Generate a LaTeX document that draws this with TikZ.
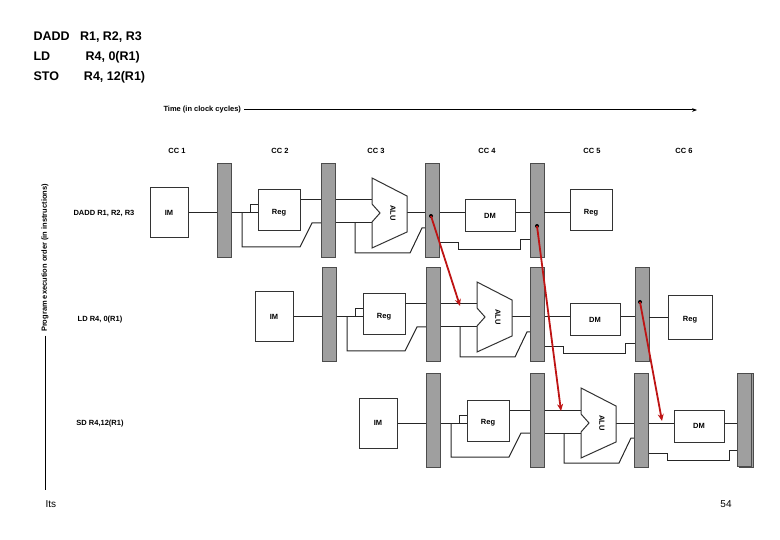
\documentclass[tikz,border=0pt]{standalone}
\usepackage{fontspec}
\setmainfont{Liberation Sans}
\usetikzlibrary{arrows.meta}
\begin{document}
\begin{tikzpicture}[x=1pt,y=-1pt,
  bar/.style={fill=gray!75,draw=black!70,line width=0.7pt},
  box/.style={draw=black!80,line width=1pt,fill=white},
  w/.style={draw=black!85,line width=1pt},
  lbl/.style={font=\fontsize{7.5}{9}\selectfont\bfseries},
  big/.style={font=\fontsize{12.5}{15}\selectfont\bfseries,anchor=west},
  red/.style={draw={rgb,255:red,190;green,20;blue,20},line width=1.8pt,-{Stealth[length=7pt,width=6pt]}},
  pics/stage/.style={code={
    \draw[w] (188,213)--(217,213);
    \draw[w] (231,213)--(250,213)--(250,205)--(258,205) (250,213)--(258,213);
    \draw[w] (242,213)--(242,247)--(300,247)--(312,223)--(321,223);
    \draw[w] (300,200)--(321,200);
    \draw[w] (335,200)--(372,200) (335,223)--(372,223);
    \draw[w] (355,223)--(355,253)--(410,253)--(422,228)--(425,228);
    \draw[w] (407,213)--(425,213);
    \draw[w] (440,213)--(465,213) (440,243)--(458,243)--(458,250)--(520,250)--(520,240)--(530,240);
    \draw[w] (515,213)--(530,213);
    \foreach \x in {217,321,425,530} \draw[bar] (\x,163) rectangle (\x+14,257);
    \draw[box] (150,188) rectangle (188,238); \node[lbl] at (169,213) {IM};
    \draw[box] (258,190) rectangle (300,231); \node[lbl] at (279,213) {Reg};
    \draw[box,fill=white] (372,178)--(407,196)--(407,232)--(372,248)--(372,222)--(380,213)--(372,204)--cycle;
    \node[lbl,rotate=-90] at (393,213) {ALU};
    \draw[box] (465,200) rectangle (515,232); \node[lbl] at (490,216) {DM};
  }}]
\useasboundingbox (0,0) rectangle (780,540);
\node[big] (i1) at (30,37) {DADD\ \ \ R1, R2, R3};
\node[big] (i2) at (30,57) {LD\qquad\ \ \ R4, 0(R1)};
\node[big] (i3) at (30,77) {STO\qquad R4, 12(R1)};
\node[lbl,anchor=west] (time) at (160,110) {Time (in clock cycles)};
\draw[line width=1pt,-{Stealth[length=5pt]}] (time.east)--(697,110);
\node[lbl,rotate=90] (prog) at (45,258) {Program execution order (in instructions)};
\draw[line width=1pt] (prog.west)--(45,490);
\foreach \t/\x in {CC 1/177,CC 2/280,CC 3/376,CC 4/487,CC 5/592,CC 6/684} \node[lbl] at (\x,151) {\t};
\node[lbl] (r1) at (104,213) {DADD R1, R2, R3};
\node[lbl] (r2) at (100,320) {LD R4, 0(R1)};
\node[lbl] (r3) at (100,424) {SD R4,12(R1)};
\pic at (0,0) {stage};
\pic at (105,104) {stage};
\pic at (209,210) {stage};
% write-back Regs
\draw[w] (544,213)--(570,213);
\draw[box] (570,190) rectangle (612,231); \node[lbl] at (591,213) {Reg};
\draw[w] (649,318)--(668,318);
\draw[box] (668,296) rectangle (712,340); \node[lbl] at (690,320) {Reg};
\draw[bar] (737,373) rectangle (751,466);
% forwarding
\fill (431,216) circle (2); \fill (537,226) circle (2); \fill (640,302) circle (2);
\draw[red] (431,216)--(460,306);
\draw[red] (537,226)--(561,411);
\draw[red] (640,302)--(662,421);
\node[font=\fontsize{10}{12}\selectfont,anchor=west] (its) at (42,504) {Its};
\node[font=\fontsize{10}{12}\selectfont] (pg) at (726,504) {54};
\end{tikzpicture}
\end{document}
